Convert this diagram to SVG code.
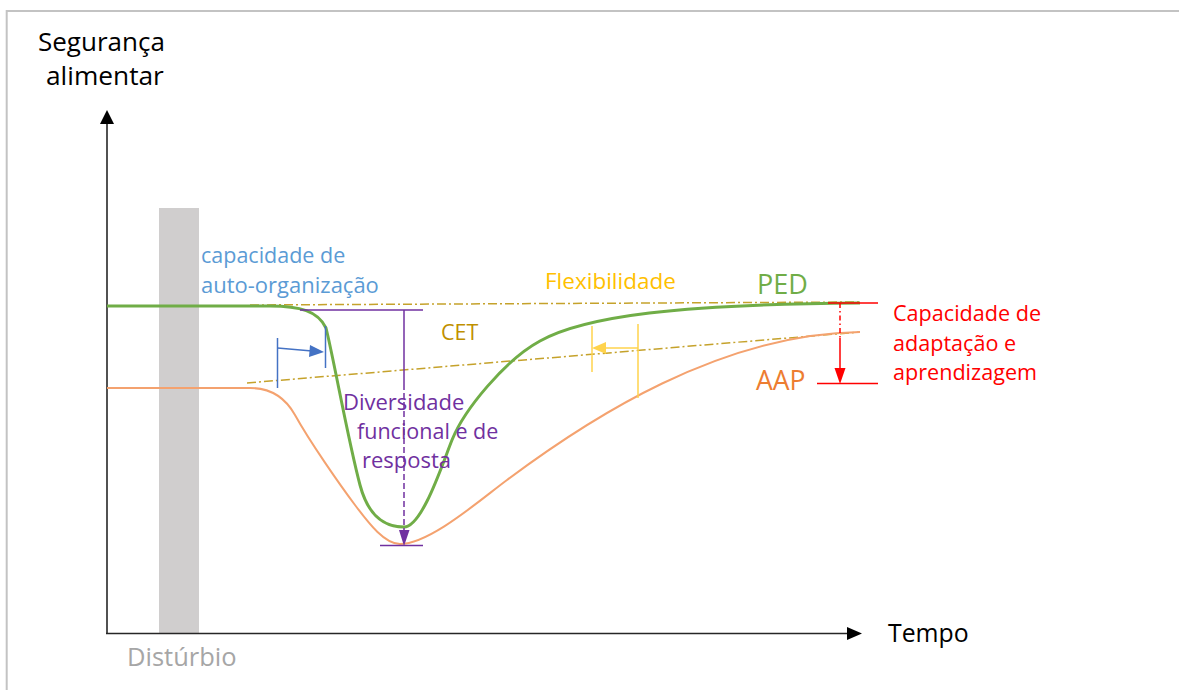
<svg xmlns="http://www.w3.org/2000/svg" width="1179" height="690" viewBox="0 0 1179 690">
  <defs>
    <style>
      text { font-family: "Open Sans", "Liberation Sans", sans-serif; }
      .axis { stroke: #262626; stroke-width: 1.6; fill: none; }
      .trend { stroke: #c5a22b; stroke-width: 1.5; fill: none; stroke-dasharray: 9 3 2 3; }
      .ped { stroke: #70ad47; stroke-width: 3; fill: none; }
      .aap { stroke: #f4a26f; stroke-width: 2; fill: none; }
      .blue { stroke: #4472c4; stroke-width: 1.5; fill: none; }
      .purple { stroke: #7030a0; stroke-width: 1.5; fill: none; }
      .yellow { stroke: #ffd34d; stroke-width: 1.5; fill: none; }
      .red { stroke: #ff0000; stroke-width: 1.5; fill: none; }
    </style>
  </defs>

  <rect x="0" y="0" width="1179" height="690" fill="#ffffff"/>
  <!-- frame -->
  <path d="M6.7,690 L6.7,11 L1179,11" fill="none" stroke="#c3c3c3" stroke-width="2"/>

  <!-- disturbance band -->
  <g id="disturbio">
    <rect x="159" y="208" width="40" height="426" fill="#d0cece"/>
    <text x="127" y="666" font-size="25.5" fill="#a6a6a6">Distúrbio</text>
  </g>

  <!-- axes -->
  <g id="axes">
    <line class="axis" x1="107" y1="634" x2="107" y2="122"/>
    <path d="M100,124 L107,110 L114,124 Z" fill="#000"/>
    <line class="axis" x1="106" y1="633.5" x2="849" y2="633.5"/>
    <path d="M847,627 L862,633.5 L847,640 Z" fill="#000"/>
    <text x="38" y="51" font-size="26" fill="#000">Segurança</text>
    <text x="46" y="85" font-size="26.3" fill="#000">alimentar</text>
    <text x="888" y="642" font-size="24.8" fill="#000">Tempo</text>
  </g>

  <g id="connectors">
    <!-- trend lines -->
    <line class="trend" x1="250" y1="305" x2="860" y2="302"/>
    <line class="trend" x1="247" y1="383" x2="860" y2="332"/>

    <!-- reference curve (AAP) -->
    <path class="aap" d="M107,388 L250,388 C270,388 285,397 295,415 C310,442 340,485 355,505 C370,525 385,544 400,544 C430,544 480,500 507,480 C590,418 720,334 860,332"/>
    <!-- resilient curve (PED) -->
    <path class="ped" d="M107,306 L270,306 C300,306 318,311 326,328 C334,360 348,440 360,485 C370,522.5 390,527 404,527 C422,527 442,465 452,440 C464,410 505,360 540,341 C585,316 680,304 860,303"/>

    <!-- self-organisation delay -->
    <line class="blue" x1="277.5" y1="338" x2="277.5" y2="388"/>
    <line class="blue" x1="325.5" y1="326" x2="325.5" y2="368"/>
    <line class="blue" x1="277.5" y1="348" x2="312" y2="351"/>
    <path d="M310,345 L324,352 L309,357 Z" fill="#4472c4"/>

    <!-- drop depth -->
    <line class="purple" x1="300" y1="310" x2="423" y2="310"/>
    <line class="purple" x1="404" y1="310" x2="404" y2="384"/>
    <line class="purple" x1="404" y1="384" x2="404" y2="532" stroke-dasharray="6 3"/>
    <path d="M399,530 L404,546 L409.5,530 Z" fill="#7030a0"/>
    <line class="purple" x1="380" y1="545.5" x2="423" y2="545.5"/>

    <!-- flexibility shift -->
    <line class="yellow" x1="592" y1="326" x2="592" y2="372"/>
    <line class="yellow" x1="638" y1="324" x2="638" y2="398"/>
    <line class="yellow" x1="638" y1="348" x2="604" y2="348"/>
    <path d="M606,342 L592,348 L606,354 Z" fill="#ffd34d"/>

    <!-- adaptation gap -->
    <line class="red" x1="828" y1="303" x2="878" y2="303"/>
    <line class="red" x1="840" y1="303" x2="840" y2="338" stroke-dasharray="5 3 1.5 3"/>
    <line class="red" x1="840" y1="338" x2="840" y2="370"/>
    <path d="M834.5,368 L840,384 L845.5,368 Z" fill="#ff0000"/>
    <line class="red" x1="817" y1="383.5" x2="878" y2="383.5"/>
  </g>

  <g id="label-autoorganizacao">
    <text x="201" y="263" font-size="21.5" fill="#5b9bd5">capacidade de</text>
    <text x="201" y="293" font-size="22" fill="#5b9bd5">auto-organização</text>
  </g>
  <g id="label-flexibilidade">
    <text x="545" y="289" font-size="22.5" fill="#ffc000">Flexibilidade</text>
  </g>
  <g id="label-ped">
    <text x="757" y="294" font-size="27" fill="#70ad47">PED</text>
  </g>
  <g id="label-cet">
    <text x="441" y="340" font-size="21.5" fill="#bf9000">CET</text>
  </g>
  <g id="label-aap">
    <text x="756" y="390" font-size="26.5" fill="#ed7d31">AAP</text>
  </g>
  <g id="label-capacidade">
    <text x="893" y="321" font-size="21.6" fill="#ff0000">Capacidade de</text>
    <text x="893" y="351" font-size="21.6" fill="#ff0000">adaptação e</text>
    <text x="893" y="380" font-size="21.6" fill="#ff0000">aprendizagem</text>
  </g>
  <g id="label-diversidade">
    <text x="343" y="410" font-size="22" fill="#7030a0">Diversidade</text>
    <text x="357" y="439" font-size="21.5" fill="#7030a0">funcional e de</text>
    <text x="362" y="468" font-size="22" fill="#7030a0">resposta</text>
  </g>
</svg>
